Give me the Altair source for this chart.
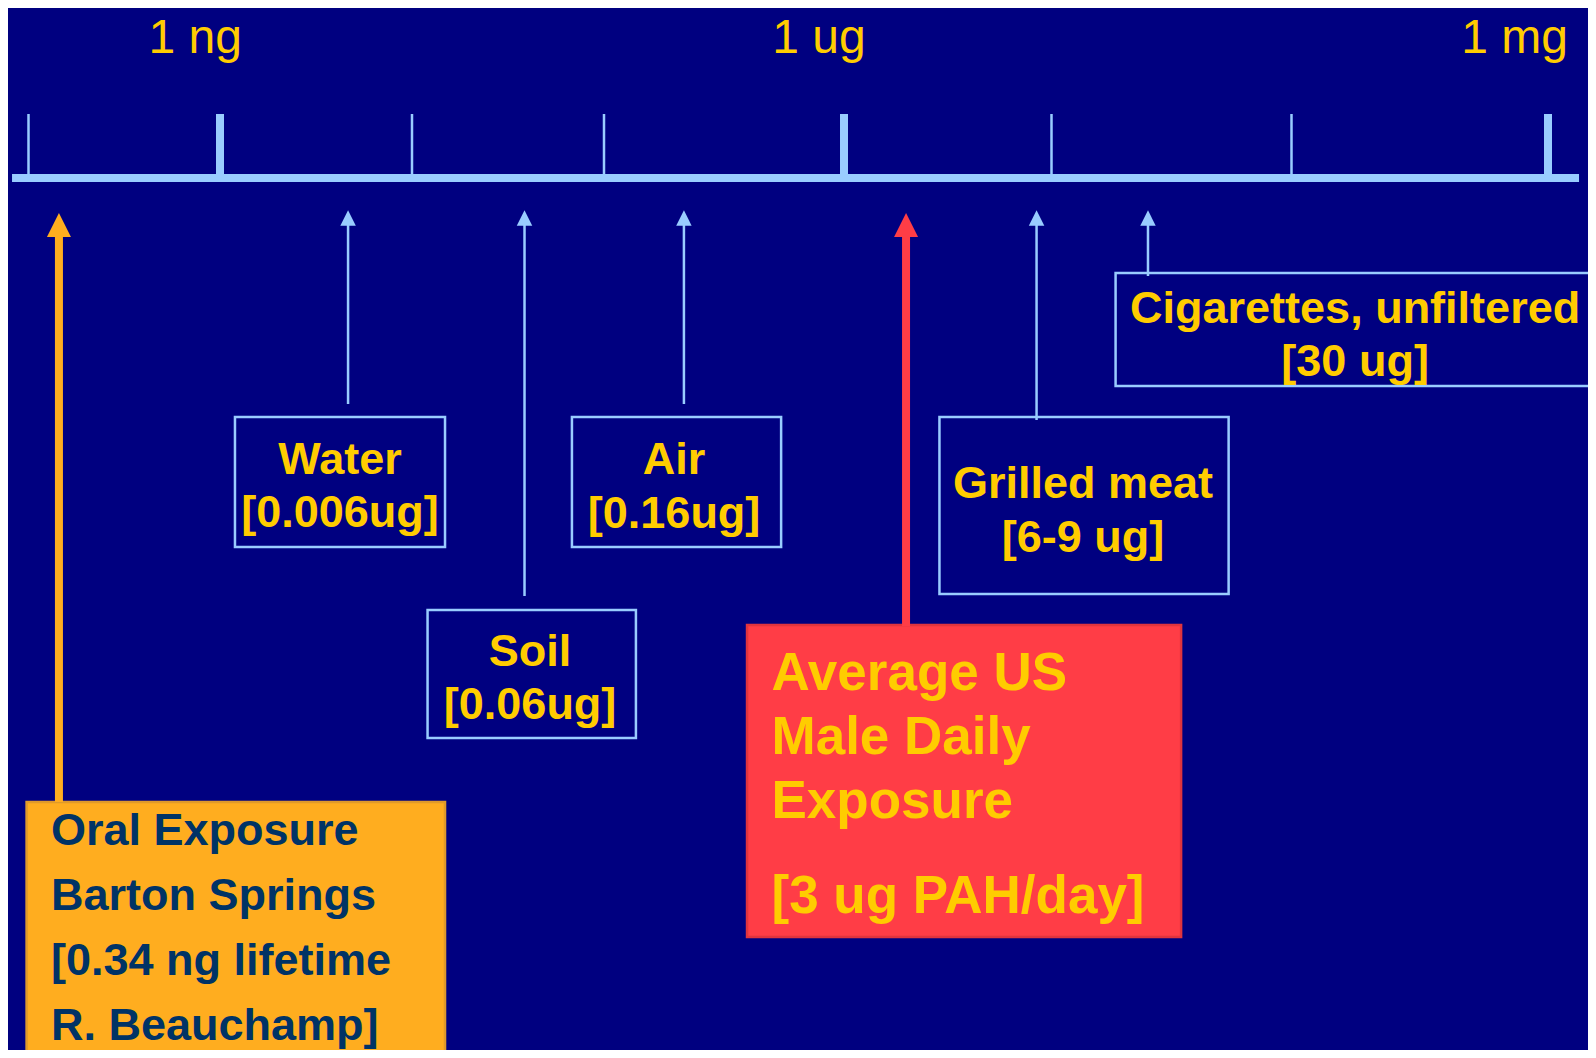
import altair as alt
import pandas as pd

NAVY = "#000080"
LIGHT = "#99CCFF"
YELLOW = "#FFCC00"
ORANGE = "#FFAD1F"
RED = "#FF3D46"
DARK = "#003366"

# ---- ruler: log10(mass in ng) ----
tick_pos = [-1, 0, 1, 2, 3, 4, 5, 6]
tick_major = [False, True, False, False, True, False, False, True]
unit_labels = ["1 ng", "1 ug", "1 mg"]
unit_label_pos = [-0.13, 2.896, 5.87]
ruler_span = [-1.086, 6.121]

# ---- exposure sources (arrow position on the ruler) ----
sources = ["Oral", "Water", "Soil", "Air", "Average", "Grilled", "Cigarettes"]
arrow_pos = [-0.841, 0.667, 1.586, 2.333, 3.299, 3.928, 4.402]
arrow_foot = [802, 404, 596, 404, 626, 420, 276]
arrow_kind = ["orange", "thin", "thin", "thin", "red", "thin", "thin"]

# ---- label boxes ----
box_x0 = [-1.010, 0.078, 1.081, 1.833, 2.596, 3.460, 4.267]
box_x1 = [1.172, 1.172, 2.133, 2.738, 4.540, 4.738, 6.183]
box_y0 = [802, 417, 610, 417, 625, 417, 273]
box_y1 = [1070, 547, 738, 547, 937, 594, 386]
box_kind = ["orange", "plain", "plain", "plain", "red", "plain", "plain"]

# ---- centred box labels ----
center_text = ["Water", "[0.006ug]", "Soil", "[0.06ug]", "Air", "[0.16ug]",
               "Grilled meat", "[6-9 ug]", "Cigarettes, unfiltered", "[30 ug]"]
center_x = [0.625, 0.625, 1.615, 1.615, 2.292, 2.292, 4.131, 4.131, 5.248, 5.248]
center_y = [474, 527, 666, 719, 474, 528, 498, 552, 323, 376]

# ---- left-aligned box texts ----
red_lines = ["Average US", "Male Daily", "Exposure", "[3 ug PAH/day]"]
red_y = [690, 754, 818, 913]
red_x = 2.698
orange_lines = ["Oral Exposure", "Barton Springs", "[0.34 ng lifetime", "R. Beauchamp]"]
orange_y = [845, 910, 975, 1040]
orange_x = -0.883

W, H = 1580, 1042
xs = alt.Scale(domain=tick_pos, range=[20.5, 212, 404, 596, 836, 1043.5, 1283.5, 1540],
               nice=False, zero=False)
ys = alt.Scale(domain=[8 + H, 8], nice=False, zero=False)

def X(f):
    return alt.X(f, type="quantitative", scale=xs, axis=None)

def Y(f):
    return alt.Y(f, type="quantitative", scale=ys, axis=None)

style_color = {"thin": LIGHT, "orange": ORANGE, "red": RED}
style_width = {"thin": 2.5, "orange": 8, "red": 8}
style_head = {"thin": 240, "orange": 576, "red": 576}
style_headdepth = {"thin": 218, "orange": 225, "red": 225}

boxes = pd.DataFrame({
    "name": sources, "x0": box_x0, "x1": box_x1, "y0": box_y0, "y1": box_y1,
    "fill": [{"orange": ORANGE, "red": RED, "plain": NAVY}[k] for k in box_kind],
    "stroke": [{"orange": "#E09A2A", "red": "#E0343E", "plain": LIGHT}[k] for k in box_kind],
})
box_layer = alt.Chart(boxes).mark_rect(strokeWidth=2.5, clip=True).encode(
    x=X("x0"), x2="x1", y=Y("y0"), y2="y1",
    fill=alt.Fill("fill:N", scale=None), stroke=alt.Stroke("stroke:N", scale=None),
)

line_df = pd.DataFrame({"x0": [ruler_span[0]], "x1": [ruler_span[1]], "y": [178]})
line_layer = alt.Chart(line_df).mark_rule(color=LIGHT, strokeWidth=8).encode(
    x=X("x0"), x2="x1", y=Y("y"))

ticks = pd.DataFrame({"x": tick_pos, "w": [8 if m else 2.5 for m in tick_major],
                      "top": [114] * len(tick_pos), "bot": [178] * len(tick_pos)})
tick_layer = alt.Chart(ticks).mark_rule(color=LIGHT).encode(
    x=X("x"), y=Y("top"), y2="bot", size=alt.Size("w:Q", scale=None))

arrows = pd.DataFrame({
    "name": sources, "x": arrow_pos, "foot": arrow_foot,
    "head": [style_headdepth[k] for k in arrow_kind],
    "color": [style_color[k] for k in arrow_kind],
    "w": [style_width[k] for k in arrow_kind],
    "hs": [style_head[k] for k in arrow_kind],
})
shaft_layer = alt.Chart(arrows).mark_rule().encode(
    x=X("x"), y=Y("head"), y2="foot",
    color=alt.Color("color:N", scale=None), size=alt.Size("w:Q", scale=None))
head_layer = alt.Chart(arrows).mark_point(
    shape="M-1,1L1,1L0,-1Z", filled=True, opacity=1, strokeWidth=0).encode(
    x=X("x"), y=Y("head"),
    color=alt.Color("color:N", scale=None), size=alt.Size("hs:Q", scale=None))

units = pd.DataFrame({"t": unit_labels, "x": unit_label_pos, "y": [53] * 3})
unit_layer = alt.Chart(units).mark_text(
    font="Liberation Sans", fontSize=48, color=YELLOW, align="center", baseline="alphabetic"
).encode(x=X("x"), y=Y("y"), text="t:N")

ctext = pd.DataFrame({"t": center_text, "x": center_x, "y": center_y})
ctext_layer = alt.Chart(ctext).mark_text(
    font="Liberation Sans", fontSize=45, fontWeight="bold", color=YELLOW,
    align="center", baseline="alphabetic"
).encode(x=X("x"), y=Y("y"), text="t:N")

red_df = pd.DataFrame({"t": red_lines, "x": [red_x] * 4, "y": red_y})
red_layer = alt.Chart(red_df).mark_text(
    font="Liberation Sans", fontSize=53, fontWeight="bold", color=YELLOW,
    align="left", baseline="alphabetic"
).encode(x=X("x"), y=Y("y"), text="t:N")

or_df = pd.DataFrame({"t": orange_lines, "x": [orange_x] * 4, "y": orange_y})
or_layer = alt.Chart(or_df).mark_text(
    font="Liberation Sans", fontSize=45, fontWeight="bold", color=DARK,
    align="left", baseline="alphabetic", clip=True
).encode(x=X("x"), y=Y("y"), text="t:N")

chart = alt.layer(
    box_layer, line_layer, tick_layer, shaft_layer, head_layer,
    unit_layer, ctext_layer, red_layer, or_layer
).properties(
    width=W, height=H, padding=0, background=NAVY,
    autosize=alt.AutoSizeParams(type="fit", contains="padding"),
).configure_view(strokeWidth=0)

chart.save("out.html", embed_options={"renderer": "svg", "actions": False})
